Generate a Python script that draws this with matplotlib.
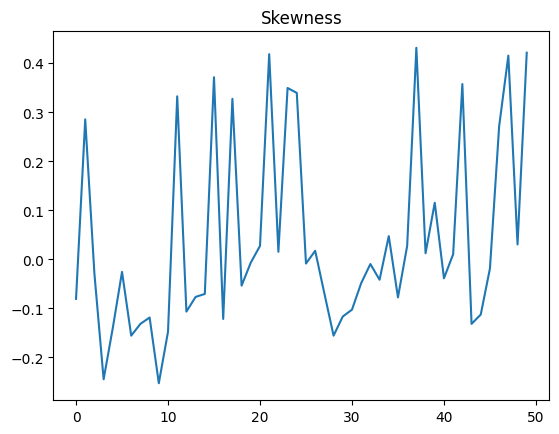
import matplotlib
matplotlib.use("Agg")
import matplotlib.pyplot as plt
import numpy as np

# Skewness per window
skewness = [
    -0.081, 0.285, -0.030, -0.245, -0.140, -0.026, -0.156, -0.132, -0.119, -0.253,
    -0.148, 0.332, -0.107, -0.077, -0.071, 0.371, -0.122, 0.327, -0.054, -0.007,
    0.027, 0.418, 0.015, 0.349, 0.339, -0.009, 0.017, -0.070, -0.156, -0.117,
    -0.103, -0.049, -0.010, -0.042, 0.047, -0.078, 0.027, 0.431, 0.012, 0.115,
    -0.039, 0.010, 0.357, -0.132, -0.113, -0.019, 0.271, 0.415, 0.030, 0.421,
]
index = np.arange(len(skewness))

fig, ax = plt.subplots(figsize=(5.59, 4.35), dpi=100)
fig.subplots_adjust(left=0.0957, right=0.9826, top=0.9264, bottom=0.0782)
ax.plot(index, skewness)
ax.set_title("Skewness")

fig.savefig("out.png")
